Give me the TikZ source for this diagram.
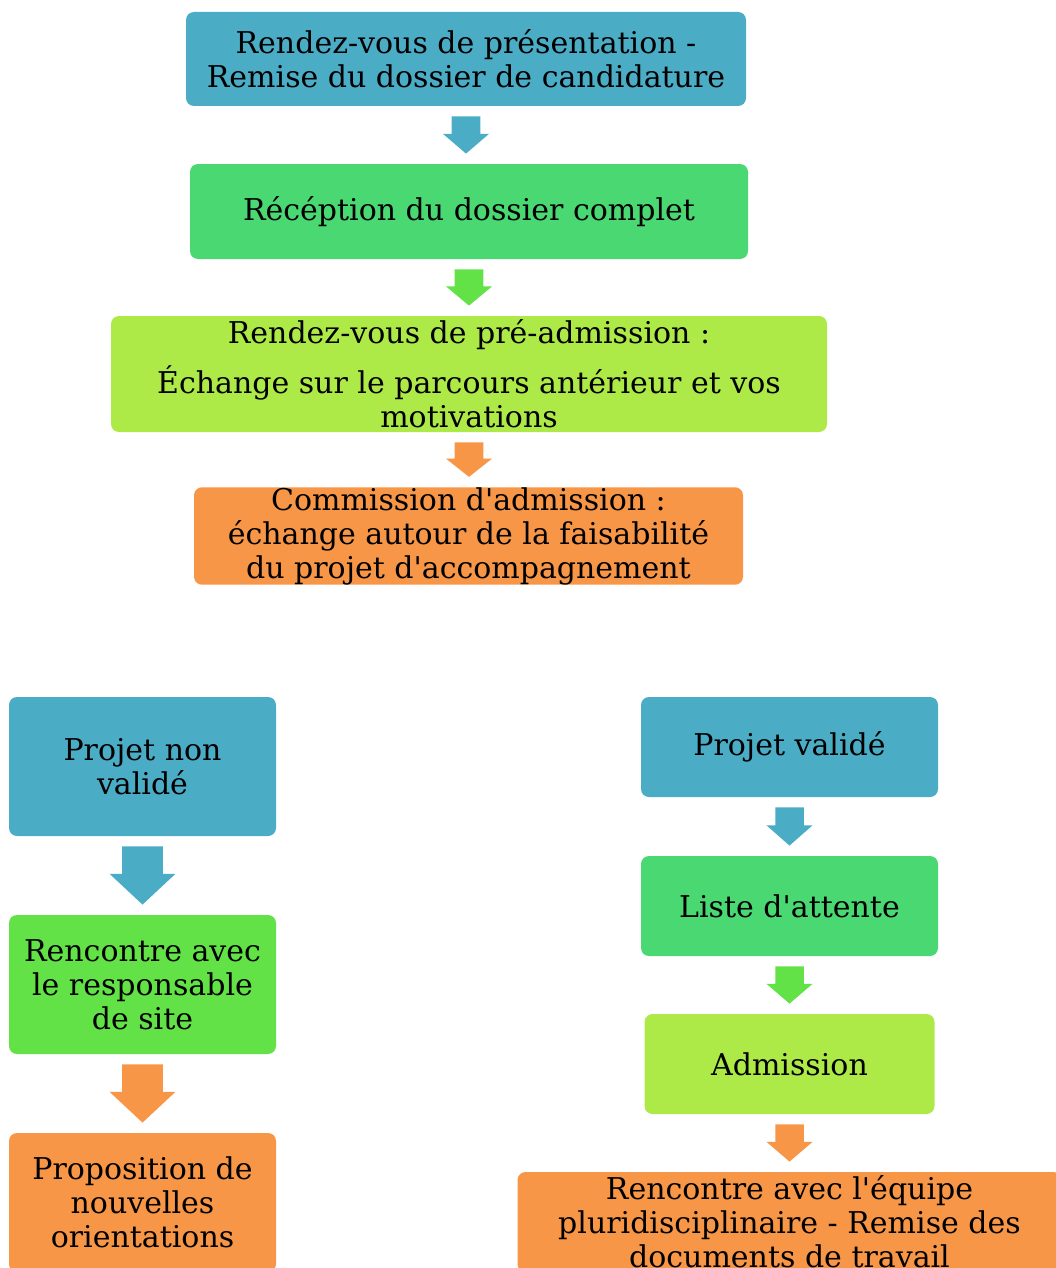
\documentclass[tikz,border=0pt]{standalone}
\usepackage{fontspec}
\setmainfont{DejaVu Serif}
\newfontfamily\etapefont{DejaVu Serif}
\usepackage{tikz}
\usetikzlibrary{calc}

\definecolor{bleu}{HTML}{4BACC6}
\definecolor{vert}{HTML}{4AD873}
\definecolor{lime}{HTML}{62E246}
\definecolor{anis}{HTML}{ADEA47}
\definecolor{orange}{HTML}{F79646}

\tikzset{
    etape/.style={rectangle, rounded corners=4pt, align=center, inner sep=0pt,
        font=\etapefont\fontsize{15}{17}\selectfont},
}

% block arrow from the bottom of #1 to the top of #2, colour #3, half width #4
\newcommand{\fleche}[4]{
    \coordinate (haut) at ($(#1.south)+(0,10)$);
    \coordinate (bas) at ($(#2.north)+(0,-10)$);
    \coordinate (bas) at (haut|-bas);
    \coordinate (mil) at ($(haut)!0.47!(bas)$);
    \fill[#3] ($(haut)+(-0.62*#4,0)$) -- ($(haut)+(0.62*#4,0)$) -- ($(mil)+(0.62*#4,0)$)
        -- ($(mil)+(#4,0)$) -- (bas) -- ($(mil)+(-#4,0)$) -- ($(mil)+(-0.62*#4,0)$) -- cycle;
}

\begin{document}
\begin{tikzpicture}[x=0.5pt, y=-0.5pt]
    \useasboundingbox (0,0) rectangle (1055,1268);

    % top chain
    \node[etape, fill=bleu, minimum width=280pt, minimum height=47pt] (rdv) at (466,59)
        {Rendez-vous de présentation -\\Remise du dossier de candidature};
    \node[etape, fill=vert, minimum width=279pt, minimum height=47.5pt] (reception) at (469,211.5)
        {Récéption du dossier complet};
    \node[etape, fill=anis, minimum width=358pt, minimum height=58pt] (preadm) at (469,374)
        {Rendez-vous de pré-admission :\\[7pt]Échange sur le parcours antérieur et vos\\motivations};
    \node[etape, fill=orange, minimum width=274.5pt, minimum height=47pt] (commission) at (468.5,536)
        {Commission d'admission :\\échange autour de la faisabilité\\du projet d'accompagnement};

    \fleche{rdv}{reception}{bleu}{23}
    \fleche{reception}{preadm}{lime}{23}
    \fleche{preadm}{commission}{orange}{23}

    % left column
    \node[etape, fill=bleu, minimum width=133.5pt, minimum height=69.5pt] (nonvalide) at (142.5,766.5)
        {Projet non\\validé};
    \node[etape, fill=lime, minimum width=133.5pt, minimum height=69.5pt] (rencontre) at (142.5,984.5)
        {Rencontre avec\\le responsable\\de site};
    \node[etape, fill=orange, minimum width=133.5pt, minimum height=69.5pt] (proposition) at (142.5,1202.5)
        {Proposition de\\nouvelles\\orientations};

    \fleche{nonvalide}{rencontre}{bleu}{33}
    \fleche{rencontre}{proposition}{orange}{33}

    % right column
    \node[etape, fill=bleu, minimum width=148.5pt, minimum height=50pt] (valide) at (789.5,747)
        {Projet validé};
    \node[etape, fill=vert, minimum width=148.5pt, minimum height=50pt] (attente) at (789.5,906)
        {Liste d'attente};
    \node[etape, fill=anis, minimum width=145pt, minimum height=50pt] (admission) at (789.5,1064)
        {Admission};
    \node[etape, fill=orange, minimum width=272pt, minimum height=50pt] (equipe) at (789.5,1222)
        {Rencontre avec l'équipe\\pluridisciplinaire - Remise des\\documents de travail};

    \fleche{valide}{attente}{bleu}{23}
    \fleche{attente}{admission}{lime}{23}
    \fleche{admission}{equipe}{orange}{23}
\end{tikzpicture}
\end{document}
